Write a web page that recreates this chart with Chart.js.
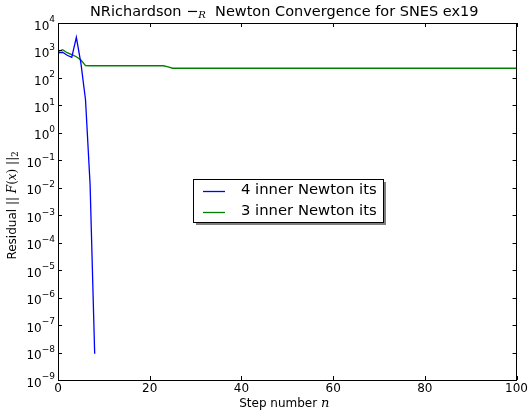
<!DOCTYPE html>
<html>
<head>
<meta charset="utf-8">
<script src="https://cdn.jsdelivr.net/npm/chart.js@4.4.1/dist/chart.umd.min.js"></script>
<style>
  html, body { margin: 0; padding: 0; background: #fff; }
  canvas { display: block; }
</style>
</head>
<body>
<canvas id="convChart" width="530" height="412"></canvas>
<script>
const CANVAS = document.getElementById("convChart");

// data
const blueSteps = [0, 1, 2, 3, 4, 5, 6, 7, 8];
const blueResidual = [810, 860, 670, 560, 3000, 340, 16, 0.013, 9e-9];

const greenSteps = [
  0, 1, 2, 3, 4, 5, 6, 7, 8, 9,
  10, 11, 12, 13, 14, 15, 16, 17, 18, 19,
  20, 21, 22, 23, 24, 25, 26, 27, 28, 29,
  30, 31, 32, 33, 34, 35, 36, 37, 38, 39,
  40, 41, 42, 43, 44, 45, 46, 47, 48, 49,
  50, 51, 52, 53, 54, 55, 56, 57, 58, 59,
  60, 61, 62, 63, 64, 65, 66, 67, 68, 69,
  70, 71, 72, 73, 74, 75, 76, 77, 78, 79,
  80, 81, 82, 83, 84, 85, 86, 87, 88, 89,
  90, 91, 92, 93, 94, 95, 96, 97, 98, 99,
  100
];
const greenResidual = [
  900, 1070, 830, 700, 590, 450, 280, 277, 277, 277,
  277, 277, 277, 277, 277, 277, 277, 277, 277, 277,
  277, 277, 277, 277, 250, 225, 225, 225, 225, 225,
  225, 225, 225, 225, 225, 225, 225, 225, 225, 225,
  225, 225, 225, 225, 225, 225, 225, 225, 225, 225,
  225, 225, 225, 225, 225, 225, 225, 225, 225, 225,
  225, 225, 225, 225, 225, 225, 225, 225, 225, 225,
  225, 225, 225, 225, 225, 225, 225, 225, 225, 225,
  225, 225, 225, 225, 225, 225, 225, 225, 225, 225,
  225, 225, 225, 225, 225, 225, 225, 225, 225, 225,
  225
];

const seriesLabels = ["4 inner Newton its", "3 inner Newton its"];
const seriesColors = ["#0000ff", "#008000"];
const xTicks = [0, 20, 40, 60, 80, 100];
const yTicks = [1e-9, 1e-8, 1e-7, 1e-6, 1e-5, 1e-4, 1e-3, 1e-2, 1e-1, 1e0, 1e1, 1e2, 1e3, 1e4];

const SANS = "'DejaVu Sans', sans-serif";
const SERIF = "'DejaVu Serif', serif";

function toPoints(xs, ys) {
  return xs.map((x, i) => ({ x: x, y: ys[i] }));
}

// draws a row of text pieces with different fonts, centred on x
function drawRuns(ctx, runs, x, y) {
  let total = 0;
  runs.forEach(r => { ctx.font = r.font; r.w = ctx.measureText(r.text).width; total += r.w; });
  let cx = x - total / 2;
  ctx.textBaseline = "middle";
  ctx.textAlign = "left";
  runs.forEach(r => {
    ctx.font = r.font;
    ctx.fillText(r.text, cx, y + (r.dy || 0));
    cx += r.w;
  });
}

const decorPlugin = {
  id: "decor",
  afterDraw(chart) {
    const ctx = chart.ctx;
    const a = chart.chartArea;
    const xs = chart.scales.x;
    const ys = chart.scales.y;
    ctx.save();
    ctx.strokeStyle = "#000";
    ctx.lineWidth = 1;

    // frame
    ctx.strokeRect(Math.round(a.left) + 0.5, Math.round(a.top) + 0.5,
      Math.round(a.right - a.left) - 1, Math.round(a.bottom - a.top));

    // inward ticks on all four sides
    const tl = 4;
    ctx.beginPath();
    xTicks.forEach(v => {
      const px = Math.round(xs.getPixelForValue(v)) + 0.5;
      ctx.moveTo(px, a.bottom); ctx.lineTo(px, a.bottom - tl);
      ctx.moveTo(px, a.top); ctx.lineTo(px, a.top + tl);
    });
    yTicks.forEach(v => {
      const py = Math.round(ys.getPixelForValue(v)) + 0.5;
      ctx.moveTo(a.left, py); ctx.lineTo(a.left + tl, py);
      ctx.moveTo(a.right, py); ctx.lineTo(a.right - tl, py);
    });
    ctx.stroke();

    ctx.fillStyle = "#000";

    // y tick labels as 10 with a raised exponent
    ys.ticks.forEach(t => {
      const py = ys.getPixelForValue(t.value);
      const ex = String(Math.round(Math.log10(t.value))).replace("-", "\u2212");
      ctx.font = "9px " + SANS;
      const ew = ctx.measureText(ex).width;
      const right = a.left - 3;
      ctx.textBaseline = "middle";
      ctx.textAlign = "right";
      ctx.fillText(ex, right, py - 3);
      ctx.font = "12px " + SANS;
      ctx.fillText("10", right - ew, py + 3.5);
    });

    const cx = (a.left + a.right) / 2;
    const cy = (a.top + a.bottom) / 2;

    // title
    drawRuns(ctx, [
      { text: "NRichardson ", font: "14.5px " + SANS },
      { text: "\u2212", font: "14.5px " + SANS },
      { text: "R", font: "italic 10px " + SERIF, dy: 3 },
      { text: "  Newton Convergence for SNES ex19", font: "14.5px " + SANS }
    ], cx - 3, 12);

    // x label
    drawRuns(ctx, [
      { text: "Step number ", font: "12px " + SANS },
      { text: "n", font: "italic 13px " + SERIF }
    ], cx - 3, 404);

    // y label
    ctx.save();
    ctx.translate(13, cy + 4);
    ctx.rotate(-Math.PI / 2);
    drawRuns(ctx, [
      { text: "Residual ", font: "12px " + SANS },
      { text: "|| ", font: "12px " + SERIF },
      { text: "F", font: "italic 12px " + SERIF },
      { text: "(", font: "12px " + SERIF },
      { text: "x", font: "italic 12px " + SERIF },
      { text: ") ||", font: "12px " + SERIF },
      { text: "2", font: "8.5px " + SERIF, dy: 3 }
    ], 0, 0);
    ctx.restore();

    // legend with shadow
    const lx = 193, ly = 179, lw = 190, lh = 43;
    ctx.fillStyle = "rgba(0,0,0,0.5)";
    ctx.fillRect(lx + 3, ly + 3, lw, lh);
    ctx.fillStyle = "#fff";
    ctx.fillRect(lx, ly, lw, lh);
    ctx.strokeStyle = "#000";
    ctx.strokeRect(lx + 0.5, ly + 0.5, lw, lh);
    seriesLabels.forEach((label, i) => {
      const yy = ly + 11.5 + i * 21;
      ctx.strokeStyle = seriesColors[i];
      ctx.lineWidth = 1.3;
      ctx.beginPath();
      ctx.moveTo(lx + 10, Math.round(yy) + 0.5);
      ctx.lineTo(lx + 32, Math.round(yy) + 0.5);
      ctx.stroke();
      ctx.fillStyle = "#000";
      ctx.font = "14.8px " + SANS;
      ctx.textAlign = "left";
      ctx.textBaseline = "middle";
      ctx.fillText(label, lx + 48, yy);
    });
    ctx.restore();
  }
};

new Chart(CANVAS, {
  type: "line",
  data: {
    datasets: [
      {
        label: seriesLabels[0],
        data: toPoints(blueSteps, blueResidual),
        borderColor: seriesColors[0],
        borderWidth: 1.3,
        pointRadius: 0,
        tension: 0,
        fill: false
      },
      {
        label: seriesLabels[1],
        data: toPoints(greenSteps, greenResidual),
        borderColor: seriesColors[1],
        borderWidth: 1.3,
        pointRadius: 0,
        tension: 0,
        fill: false
      }
    ]
  },
  options: {
    responsive: false,
    animation: false,
    layout: { padding: { left: 0, top: 23, right: 13, bottom: 0 } },
    plugins: {
      legend: { display: false },
      title: { display: false },
      tooltip: { enabled: false }
    },
    scales: {
      x: {
        type: "linear",
        min: 0,
        max: 100,
        grid: { display: false, drawTicks: false, tickLength: 0 },
        border: { display: false },
        afterBuildTicks: (scale) => { scale.ticks = xTicks.map(v => ({ value: v })); },
        afterFit: (scale) => { scale.height = 32; },
        ticks: {
          color: "#000",
          font: { family: SANS, size: 12 },
          padding: 2,
          maxRotation: 0,
          autoSkip: false
        }
      },
      y: {
        type: "logarithmic",
        min: 1e-9,
        max: 1e4,
        grid: { display: false },
        border: { display: false },
        afterBuildTicks: (scale) => { scale.ticks = yTicks.map(v => ({ value: v })); },
        afterFit: (scale) => { scale.width = 58; },
        ticks: { display: false }
      }
    }
  },
  plugins: [decorPlugin]
});
</script>
</body>
</html>
